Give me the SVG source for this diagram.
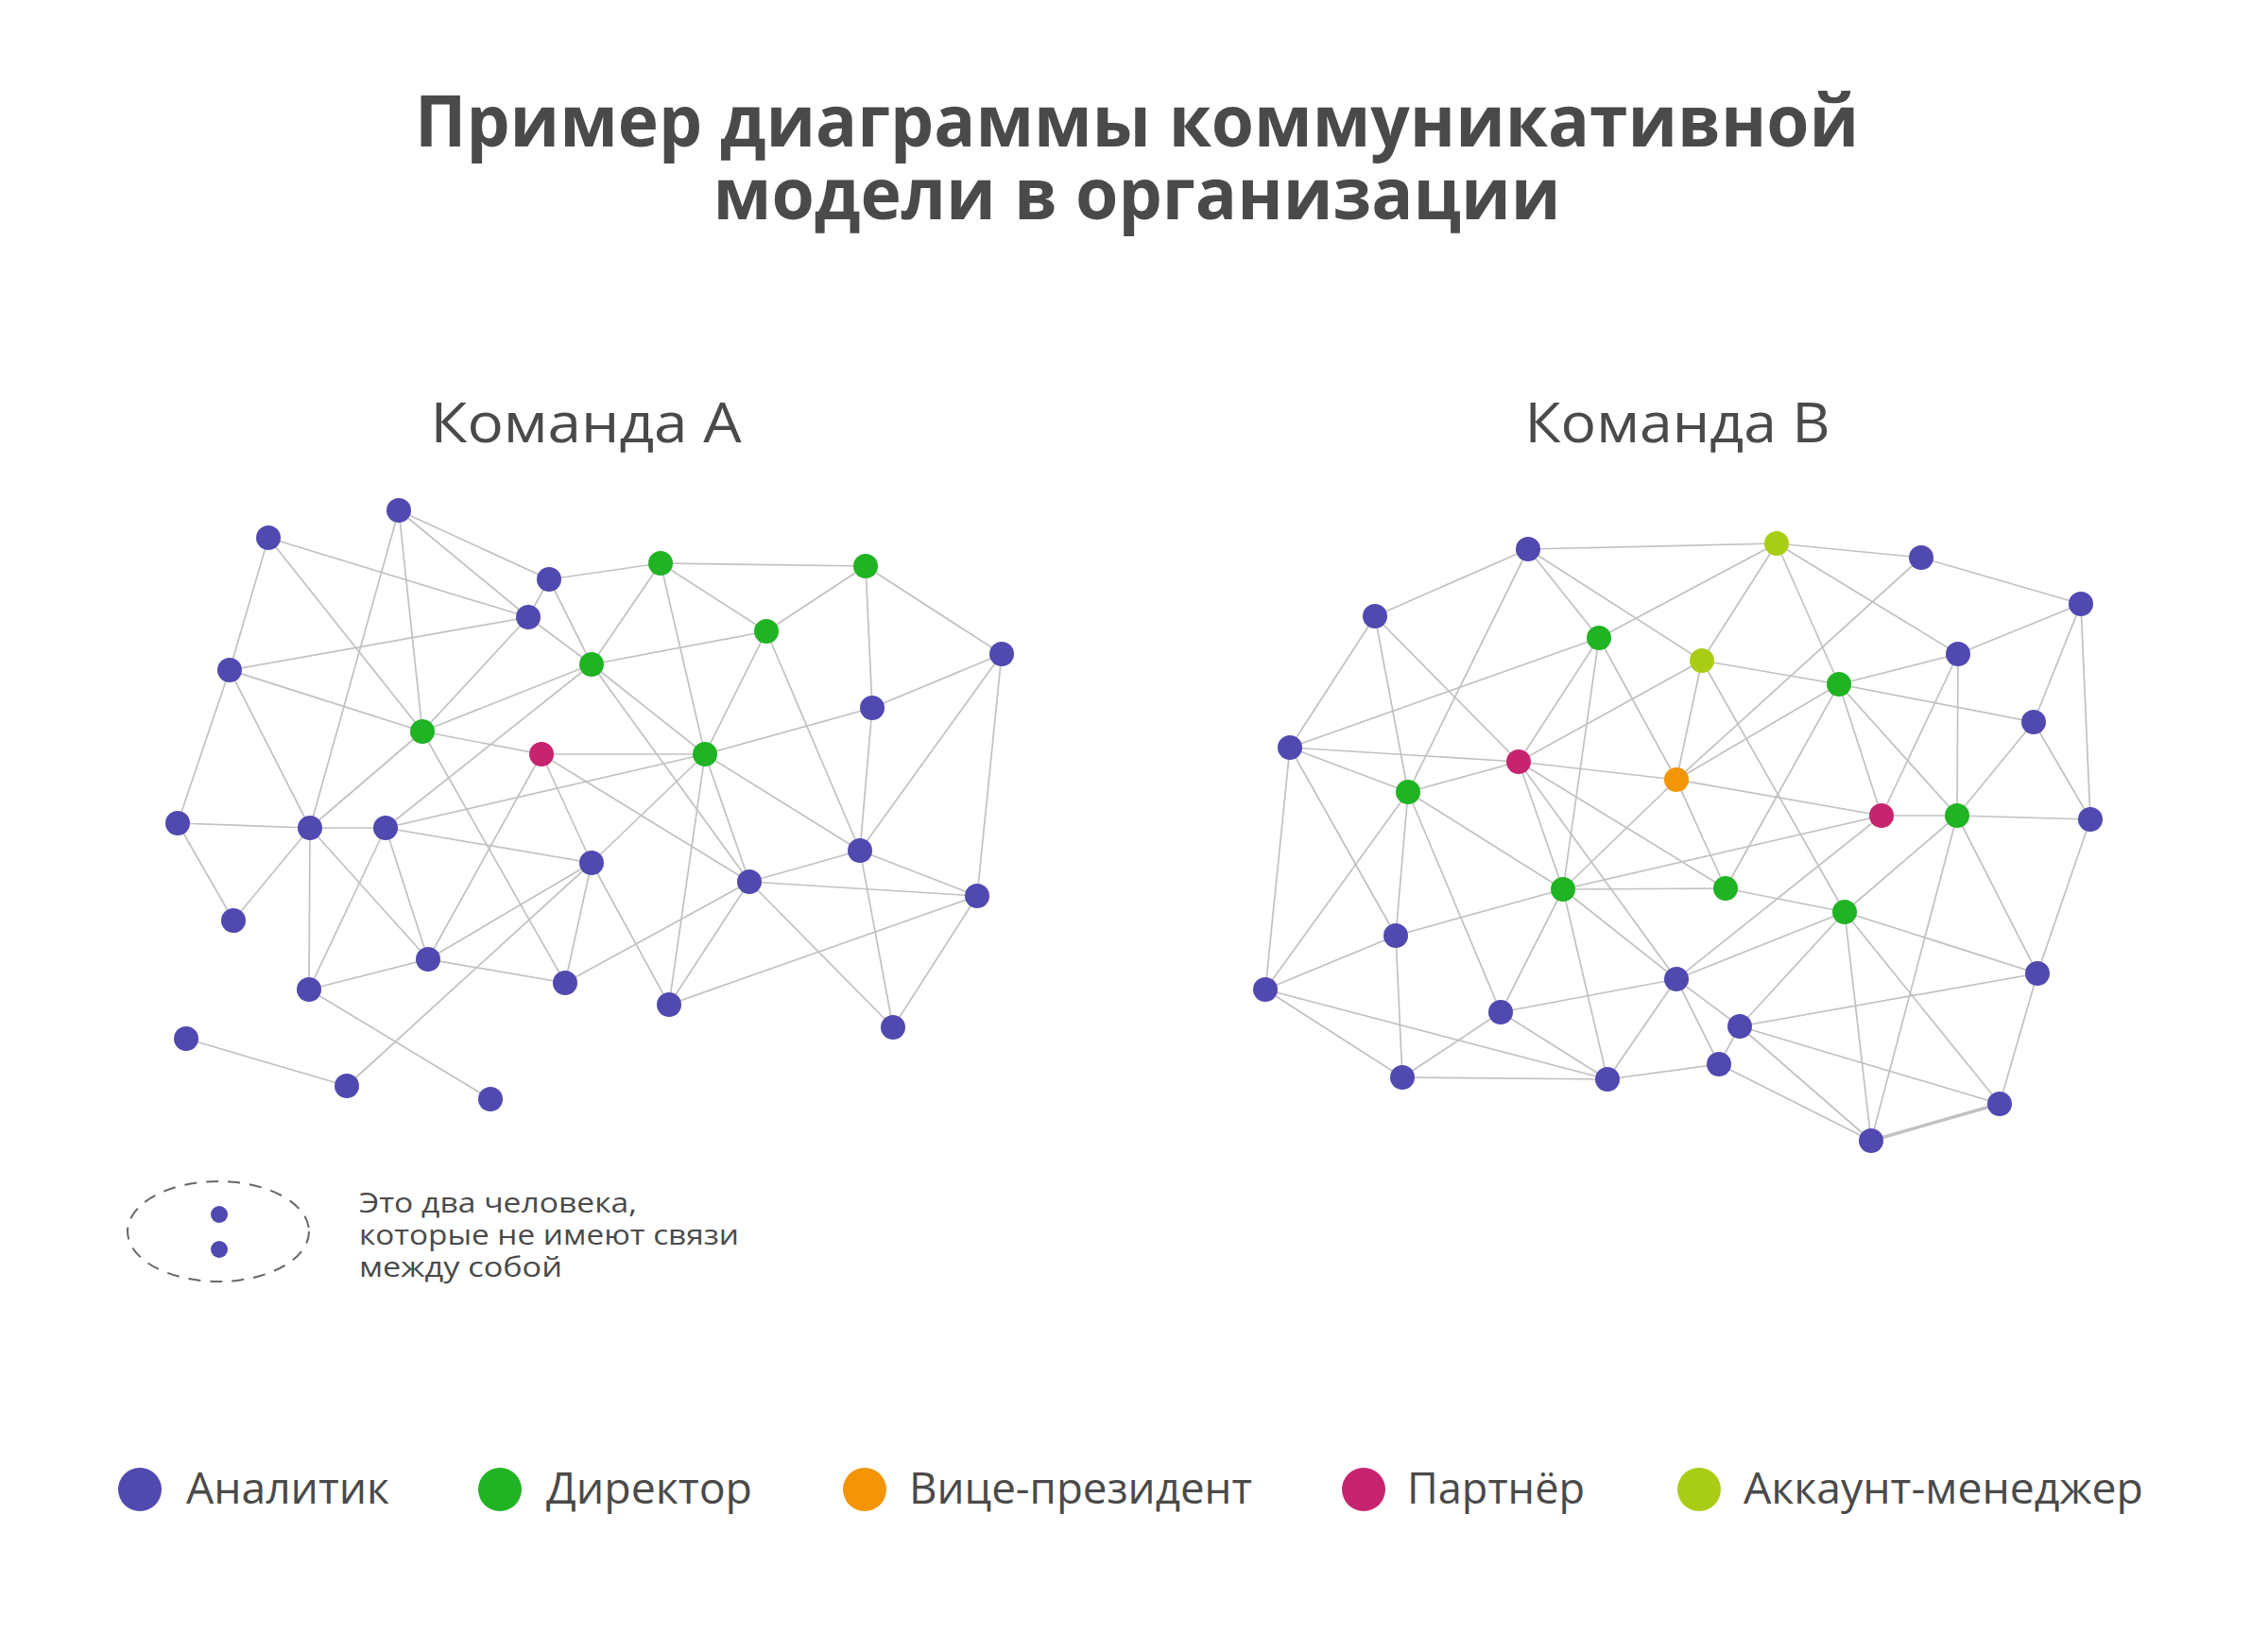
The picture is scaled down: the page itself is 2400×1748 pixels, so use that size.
<svg xmlns="http://www.w3.org/2000/svg" width="2400" height="1748" viewBox="0 0 2400 1748">
<style>
.e{stroke:#c1c1c1;stroke-width:1.7;fill:none}
.ek{stroke:#c1c1c1;stroke-width:3.4;fill:none}
.b{fill:#5049b0}.g{fill:#20b324}.m{fill:#c6246f}.o{fill:#f39506}.y{fill:#a9cd14}
.t{font-family:"Open Sans","Noto Sans","Liberation Sans",sans-serif;fill:#4a4a4a}
.title{font-size:76px;font-weight:700}
.team{font-size:58px;font-weight:400}
.leg{font-size:46px;font-weight:400}
.note{font-size:29px;font-weight:400}
</style>
<rect width="2400" height="1748" fill="#ffffff"/>
<g id="title">
<text class="t title" x="1203" y="155" text-anchor="middle" textLength="1528" lengthAdjust="spacingAndGlyphs">Пример диаграммы коммуникативной</text>
<text class="t title" x="1203" y="232" text-anchor="middle" textLength="897" lengthAdjust="spacingAndGlyphs">модели в организации</text>
</g>
<text class="t team" x="620" y="468" text-anchor="middle" textLength="329" lengthAdjust="spacingAndGlyphs">Команда А</text>
<text class="t team" x="1775" y="468" text-anchor="middle" textLength="323" lengthAdjust="spacingAndGlyphs">Команда В</text>
<g id="connectors-a">
<line class="e" x1="422" y1="540" x2="328" y2="876"/>
<line class="e" x1="422" y1="540" x2="447" y2="774"/>
<line class="e" x1="422" y1="540" x2="559" y2="653"/>
<line class="e" x1="422" y1="540" x2="581" y2="613"/>
<line class="e" x1="284" y1="569" x2="559" y2="653"/>
<line class="e" x1="284" y1="569" x2="447" y2="774"/>
<line class="e" x1="284" y1="569" x2="243" y2="709"/>
<line class="e" x1="581" y1="613" x2="559" y2="653"/>
<line class="e" x1="581" y1="613" x2="626" y2="703"/>
<line class="e" x1="581" y1="613" x2="699" y2="596"/>
<line class="e" x1="559" y1="653" x2="243" y2="709"/>
<line class="e" x1="559" y1="653" x2="447" y2="774"/>
<line class="e" x1="559" y1="653" x2="626" y2="703"/>
<line class="e" x1="243" y1="709" x2="447" y2="774"/>
<line class="e" x1="243" y1="709" x2="188" y2="871"/>
<line class="e" x1="243" y1="709" x2="328" y2="876"/>
<line class="e" x1="447" y1="774" x2="626" y2="703"/>
<line class="e" x1="447" y1="774" x2="573" y2="798"/>
<line class="e" x1="447" y1="774" x2="328" y2="876"/>
<line class="e" x1="447" y1="774" x2="598" y2="1040"/>
<line class="e" x1="626" y1="703" x2="699" y2="596"/>
<line class="e" x1="626" y1="703" x2="811" y2="668"/>
<line class="e" x1="626" y1="703" x2="793" y2="933"/>
<line class="e" x1="626" y1="703" x2="408" y2="876"/>
<line class="e" x1="626" y1="703" x2="746" y2="798"/>
<line class="e" x1="408" y1="876" x2="746" y2="798"/>
<line class="e" x1="573" y1="798" x2="746" y2="798"/>
<line class="e" x1="573" y1="798" x2="453" y2="1015"/>
<line class="e" x1="573" y1="798" x2="626" y2="913"/>
<line class="e" x1="573" y1="798" x2="793" y2="933"/>
<line class="e" x1="699" y1="596" x2="916" y2="599"/>
<line class="e" x1="699" y1="596" x2="811" y2="668"/>
<line class="e" x1="699" y1="596" x2="746" y2="798"/>
<line class="e" x1="916" y1="599" x2="811" y2="668"/>
<line class="e" x1="916" y1="599" x2="923" y2="749"/>
<line class="e" x1="916" y1="599" x2="1060" y2="692"/>
<line class="e" x1="811" y1="668" x2="746" y2="798"/>
<line class="e" x1="811" y1="668" x2="910" y2="900"/>
<line class="e" x1="1060" y1="692" x2="923" y2="749"/>
<line class="e" x1="1060" y1="692" x2="910" y2="900"/>
<line class="e" x1="1060" y1="692" x2="1034" y2="948"/>
<line class="e" x1="923" y1="749" x2="746" y2="798"/>
<line class="e" x1="923" y1="749" x2="910" y2="900"/>
<line class="e" x1="746" y1="798" x2="626" y2="913"/>
<line class="e" x1="746" y1="798" x2="708" y2="1063"/>
<line class="e" x1="746" y1="798" x2="793" y2="933"/>
<line class="e" x1="746" y1="798" x2="910" y2="900"/>
<line class="e" x1="793" y1="933" x2="598" y2="1040"/>
<line class="e" x1="793" y1="933" x2="708" y2="1063"/>
<line class="e" x1="793" y1="933" x2="910" y2="900"/>
<line class="e" x1="793" y1="933" x2="1034" y2="948"/>
<line class="e" x1="793" y1="933" x2="945" y2="1087"/>
<line class="e" x1="910" y1="900" x2="1034" y2="948"/>
<line class="e" x1="910" y1="900" x2="945" y2="1087"/>
<line class="e" x1="1034" y1="948" x2="708" y2="1063"/>
<line class="e" x1="1034" y1="948" x2="945" y2="1087"/>
<line class="e" x1="626" y1="913" x2="708" y2="1063"/>
<line class="e" x1="188" y1="871" x2="328" y2="876"/>
<line class="e" x1="188" y1="871" x2="247" y2="974"/>
<line class="e" x1="328" y1="876" x2="408" y2="876"/>
<line class="e" x1="328" y1="876" x2="247" y2="974"/>
<line class="e" x1="328" y1="876" x2="327" y2="1047"/>
<line class="e" x1="328" y1="876" x2="453" y2="1015"/>
<line class="e" x1="408" y1="876" x2="327" y2="1047"/>
<line class="e" x1="408" y1="876" x2="453" y2="1015"/>
<line class="e" x1="408" y1="876" x2="626" y2="913"/>
<line class="e" x1="626" y1="913" x2="453" y2="1015"/>
<line class="e" x1="626" y1="913" x2="367" y2="1149"/>
<line class="e" x1="626" y1="913" x2="598" y2="1040"/>
<line class="e" x1="453" y1="1015" x2="327" y2="1047"/>
<line class="e" x1="453" y1="1015" x2="598" y2="1040"/>
<line class="e" x1="327" y1="1047" x2="519" y2="1163"/>
<line class="e" x1="197" y1="1099" x2="367" y2="1149"/>
</g>
<g id="connectors-b">
<line class="e" x1="1617" y1="581" x2="1880" y2="575"/>
<line class="e" x1="1617" y1="581" x2="1455" y2="652"/>
<line class="e" x1="1617" y1="581" x2="1490" y2="838"/>
<line class="e" x1="1617" y1="581" x2="1692" y2="675"/>
<line class="e" x1="1617" y1="581" x2="1801" y2="699"/>
<line class="e" x1="1455" y1="652" x2="1365" y2="791"/>
<line class="e" x1="1455" y1="652" x2="1490" y2="838"/>
<line class="e" x1="1455" y1="652" x2="1607" y2="806"/>
<line class="e" x1="1692" y1="675" x2="1880" y2="575"/>
<line class="e" x1="1692" y1="675" x2="1365" y2="791"/>
<line class="e" x1="1692" y1="675" x2="1607" y2="806"/>
<line class="e" x1="1692" y1="675" x2="1654" y2="941"/>
<line class="e" x1="1692" y1="675" x2="1774" y2="825"/>
<line class="e" x1="1365" y1="791" x2="1607" y2="806"/>
<line class="e" x1="1365" y1="791" x2="1490" y2="838"/>
<line class="e" x1="1365" y1="791" x2="1339" y2="1047"/>
<line class="e" x1="1365" y1="791" x2="1477" y2="990"/>
<line class="e" x1="1607" y1="806" x2="1490" y2="838"/>
<line class="e" x1="1607" y1="806" x2="1774" y2="825"/>
<line class="e" x1="1607" y1="806" x2="1801" y2="699"/>
<line class="e" x1="1607" y1="806" x2="1654" y2="941"/>
<line class="e" x1="1607" y1="806" x2="1774" y2="1036"/>
<line class="e" x1="1607" y1="806" x2="1826" y2="940"/>
<line class="e" x1="1490" y1="838" x2="1339" y2="1047"/>
<line class="e" x1="1490" y1="838" x2="1477" y2="990"/>
<line class="e" x1="1490" y1="838" x2="1588" y2="1071"/>
<line class="e" x1="1490" y1="838" x2="1654" y2="941"/>
<line class="e" x1="1774" y1="825" x2="1801" y2="699"/>
<line class="e" x1="1774" y1="825" x2="2033" y2="590"/>
<line class="e" x1="1774" y1="825" x2="1946" y2="724"/>
<line class="e" x1="1774" y1="825" x2="1991" y2="863"/>
<line class="e" x1="1774" y1="825" x2="1826" y2="940"/>
<line class="e" x1="1774" y1="825" x2="1654" y2="941"/>
<line class="e" x1="1880" y1="575" x2="2033" y2="590"/>
<line class="e" x1="1880" y1="575" x2="1801" y2="699"/>
<line class="e" x1="1880" y1="575" x2="1946" y2="724"/>
<line class="e" x1="1880" y1="575" x2="2072" y2="692"/>
<line class="e" x1="2033" y1="590" x2="2202" y2="639"/>
<line class="e" x1="2202" y1="639" x2="2072" y2="692"/>
<line class="e" x1="2202" y1="639" x2="2152" y2="764"/>
<line class="e" x1="2202" y1="639" x2="2212" y2="867"/>
<line class="e" x1="1801" y1="699" x2="1946" y2="724"/>
<line class="e" x1="1801" y1="699" x2="1952" y2="965"/>
<line class="e" x1="1946" y1="724" x2="2072" y2="692"/>
<line class="e" x1="1946" y1="724" x2="2152" y2="764"/>
<line class="e" x1="1946" y1="724" x2="1826" y2="940"/>
<line class="e" x1="1946" y1="724" x2="1991" y2="863"/>
<line class="e" x1="1946" y1="724" x2="2071" y2="863"/>
<line class="e" x1="2072" y1="692" x2="1991" y2="863"/>
<line class="e" x1="2072" y1="692" x2="2071" y2="863"/>
<line class="e" x1="2152" y1="764" x2="2071" y2="863"/>
<line class="e" x1="2152" y1="764" x2="2212" y2="867"/>
<line class="e" x1="1991" y1="863" x2="2071" y2="863"/>
<line class="e" x1="1991" y1="863" x2="1654" y2="941"/>
<line class="e" x1="1991" y1="863" x2="1774" y2="1036"/>
<line class="e" x1="2071" y1="863" x2="2212" y2="867"/>
<line class="e" x1="2071" y1="863" x2="1952" y2="965"/>
<line class="e" x1="2071" y1="863" x2="1980" y2="1207"/>
<line class="e" x1="2071" y1="863" x2="2156" y2="1030"/>
<line class="e" x1="2212" y1="867" x2="2156" y2="1030"/>
<line class="e" x1="1654" y1="941" x2="1826" y2="940"/>
<line class="e" x1="1654" y1="941" x2="1477" y2="990"/>
<line class="e" x1="1654" y1="941" x2="1588" y2="1071"/>
<line class="e" x1="1654" y1="941" x2="1701" y2="1142"/>
<line class="e" x1="1654" y1="941" x2="1774" y2="1036"/>
<line class="e" x1="1477" y1="990" x2="1339" y2="1047"/>
<line class="e" x1="1477" y1="990" x2="1484" y2="1140"/>
<line class="e" x1="1339" y1="1047" x2="1484" y2="1140"/>
<line class="e" x1="1339" y1="1047" x2="1701" y2="1142"/>
<line class="e" x1="1588" y1="1071" x2="1484" y2="1140"/>
<line class="e" x1="1588" y1="1071" x2="1701" y2="1142"/>
<line class="e" x1="1588" y1="1071" x2="1774" y2="1036"/>
<line class="e" x1="1774" y1="1036" x2="1701" y2="1142"/>
<line class="e" x1="1774" y1="1036" x2="1952" y2="965"/>
<line class="e" x1="1774" y1="1036" x2="1841" y2="1086"/>
<line class="e" x1="1774" y1="1036" x2="1819" y2="1126"/>
<line class="e" x1="1484" y1="1140" x2="1701" y2="1142"/>
<line class="e" x1="1701" y1="1142" x2="1819" y2="1126"/>
<line class="e" x1="1826" y1="940" x2="1952" y2="965"/>
<line class="e" x1="1952" y1="965" x2="1841" y2="1086"/>
<line class="e" x1="1952" y1="965" x2="1980" y2="1207"/>
<line class="e" x1="1952" y1="965" x2="2116" y2="1168"/>
<line class="e" x1="1952" y1="965" x2="2156" y2="1030"/>
<line class="e" x1="2156" y1="1030" x2="1841" y2="1086"/>
<line class="e" x1="2156" y1="1030" x2="2116" y2="1168"/>
<line class="e" x1="1841" y1="1086" x2="1819" y2="1126"/>
<line class="e" x1="1841" y1="1086" x2="1980" y2="1207"/>
<line class="e" x1="1841" y1="1086" x2="2116" y2="1168"/>
<line class="e" x1="1819" y1="1126" x2="1980" y2="1207"/>
<line class="ek" x1="2116" y1="1168" x2="1980" y2="1207"/>
</g>
<g id="nodes-a">
<g id="a1"><circle class="b" cx="422" cy="540" r="13"/></g>
<g id="a2"><circle class="b" cx="284" cy="569" r="13"/></g>
<g id="a3"><circle class="b" cx="581" cy="613" r="13"/></g>
<g id="a4"><circle class="b" cx="559" cy="653" r="13"/></g>
<g id="a5"><circle class="b" cx="243" cy="709" r="13"/></g>
<g id="a6"><circle class="g" cx="626" cy="703" r="13"/></g>
<g id="a7"><circle class="g" cx="447" cy="774" r="13"/></g>
<g id="a8"><circle class="m" cx="573" cy="798" r="13"/></g>
<g id="a9"><circle class="g" cx="699" cy="596" r="13"/></g>
<g id="a10"><circle class="g" cx="916" cy="599" r="13"/></g>
<g id="a11"><circle class="g" cx="811" cy="668" r="13"/></g>
<g id="a12"><circle class="b" cx="1060" cy="692" r="13"/></g>
<g id="a13"><circle class="b" cx="923" cy="749" r="13"/></g>
<g id="a14"><circle class="g" cx="746" cy="798" r="13"/></g>
<g id="a15"><circle class="b" cx="188" cy="871" r="13"/></g>
<g id="a16"><circle class="b" cx="328" cy="876" r="13"/></g>
<g id="a17"><circle class="b" cx="408" cy="876" r="13"/></g>
<g id="a18"><circle class="b" cx="626" cy="913" r="13"/></g>
<g id="a19"><circle class="b" cx="247" cy="974" r="13"/></g>
<g id="a20"><circle class="b" cx="453" cy="1015" r="13"/></g>
<g id="a21"><circle class="b" cx="327" cy="1047" r="13"/></g>
<g id="a22"><circle class="b" cx="598" cy="1040" r="13"/></g>
<g id="a23"><circle class="b" cx="197" cy="1099" r="13"/></g>
<g id="a24"><circle class="b" cx="367" cy="1149" r="13"/></g>
<g id="a25"><circle class="b" cx="519" cy="1163" r="13"/></g>
<g id="a26"><circle class="b" cx="793" cy="933" r="13"/></g>
<g id="a27"><circle class="b" cx="910" cy="900" r="13"/></g>
<g id="a28"><circle class="b" cx="1034" cy="948" r="13"/></g>
<g id="a29"><circle class="b" cx="708" cy="1063" r="13"/></g>
<g id="a30"><circle class="b" cx="945" cy="1087" r="13"/></g>
</g>
<g id="nodes-b">
<g id="b1"><circle class="b" cx="1617" cy="581" r="13"/></g>
<g id="b2"><circle class="b" cx="1455" cy="652" r="13"/></g>
<g id="b3"><circle class="g" cx="1692" cy="675" r="13"/></g>
<g id="b4"><circle class="b" cx="1365" cy="791" r="13"/></g>
<g id="b5"><circle class="m" cx="1607" cy="806" r="13"/></g>
<g id="b6"><circle class="g" cx="1490" cy="838" r="13"/></g>
<g id="b7"><circle class="o" cx="1774" cy="825" r="13"/></g>
<g id="b8"><circle class="y" cx="1801" cy="699" r="13"/></g>
<g id="b9"><circle class="y" cx="1880" cy="575" r="13"/></g>
<g id="b10"><circle class="b" cx="2033" cy="590" r="13"/></g>
<g id="b11"><circle class="b" cx="2202" cy="639" r="13"/></g>
<g id="b12"><circle class="b" cx="2072" cy="692" r="13"/></g>
<g id="b13"><circle class="g" cx="1946" cy="724" r="13"/></g>
<g id="b14"><circle class="b" cx="2152" cy="764" r="13"/></g>
<g id="b15"><circle class="m" cx="1991" cy="863" r="13"/></g>
<g id="b16"><circle class="g" cx="2071" cy="863" r="13"/></g>
<g id="b17"><circle class="b" cx="2212" cy="867" r="13"/></g>
<g id="b18"><circle class="g" cx="1654" cy="941" r="13"/></g>
<g id="b19"><circle class="b" cx="1477" cy="990" r="13"/></g>
<g id="b20"><circle class="b" cx="1339" cy="1047" r="13"/></g>
<g id="b21"><circle class="b" cx="1588" cy="1071" r="13"/></g>
<g id="b22"><circle class="b" cx="1774" cy="1036" r="13"/></g>
<g id="b23"><circle class="b" cx="1484" cy="1140" r="13"/></g>
<g id="b24"><circle class="b" cx="1701" cy="1142" r="13"/></g>
<g id="b25"><circle class="g" cx="1826" cy="940" r="13"/></g>
<g id="b26"><circle class="g" cx="1952" cy="965" r="13"/></g>
<g id="b27"><circle class="b" cx="2156" cy="1030" r="13"/></g>
<g id="b28"><circle class="b" cx="1841" cy="1086" r="13"/></g>
<g id="b29"><circle class="b" cx="1819" cy="1126" r="13"/></g>
<g id="b30"><circle class="b" cx="2116" cy="1168" r="13"/></g>
<g id="b31"><circle class="b" cx="1980" cy="1207" r="13"/></g>
</g>
<g id="note">
<ellipse cx="231" cy="1303" rx="96" ry="53" fill="none" stroke="#666666" stroke-width="2" stroke-dasharray="13 10"/>
<circle class="b" cx="232" cy="1285" r="9"/>
<circle class="b" cx="232" cy="1322" r="9"/>
<text class="t note" x="380" y="1283" textLength="294" lengthAdjust="spacingAndGlyphs">Это два человека,</text>
<text class="t note" x="380" y="1317" textLength="402" lengthAdjust="spacingAndGlyphs">которые не имеют связи</text>
<text class="t note" x="380" y="1351" textLength="215" lengthAdjust="spacingAndGlyphs">между собой</text>
</g>
<g id="legend">
<g id="leg-analyst"><circle class="b" cx="148" cy="1576" r="23"/><text class="t leg" x="197" y="1591" textLength="215" lengthAdjust="spacingAndGlyphs">Аналитик</text></g>
<g id="leg-director"><circle class="g" cx="529" cy="1576" r="23"/><text class="t leg" x="578" y="1591" textLength="218" lengthAdjust="spacingAndGlyphs">Директор</text></g>
<g id="leg-vp"><circle class="o" cx="915" cy="1576" r="23"/><text class="t leg" x="962" y="1591" textLength="363" lengthAdjust="spacingAndGlyphs">Вице-президент</text></g>
<g id="leg-partner"><circle class="m" cx="1443" cy="1576" r="23"/><text class="t leg" x="1489" y="1591" textLength="188" lengthAdjust="spacingAndGlyphs">Партнёр</text></g>
<g id="leg-am"><circle class="y" cx="1798" cy="1576" r="23"/><text class="t leg" x="1845" y="1591" textLength="423" lengthAdjust="spacingAndGlyphs">Аккаунт-менеджер</text></g>
</g>
</svg>
